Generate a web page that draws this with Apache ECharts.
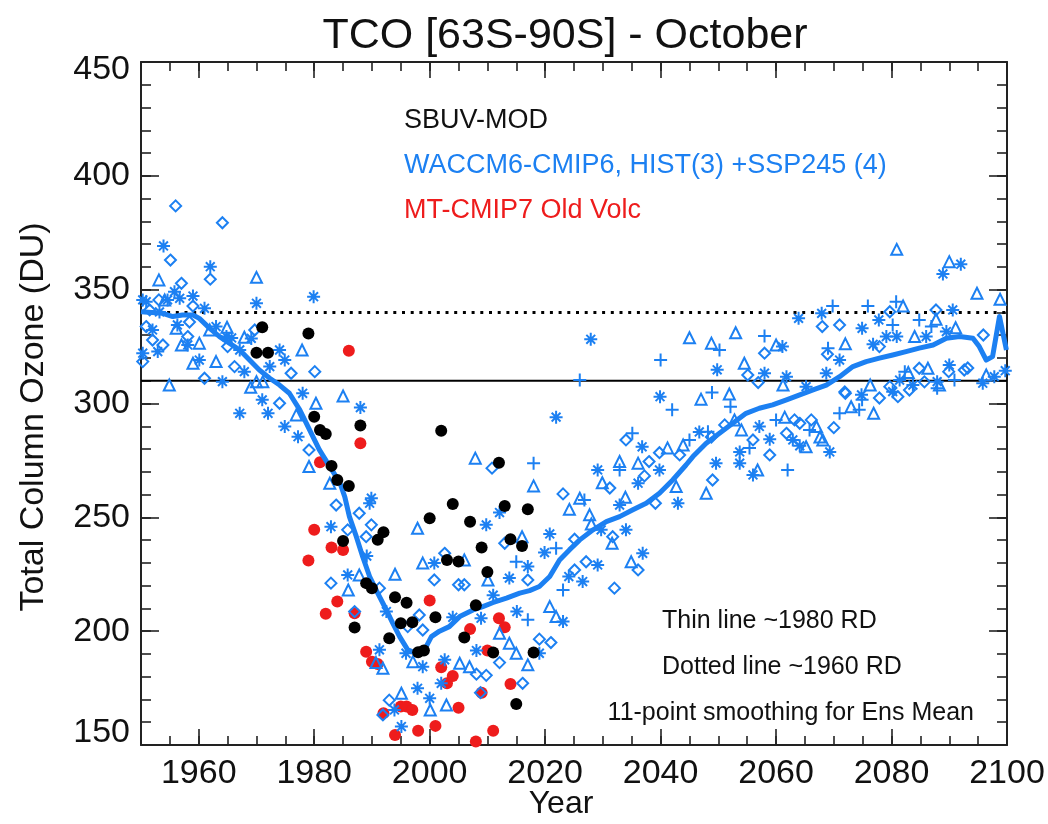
<!DOCTYPE html>
<html>
<head>
<meta charset="utf-8">
<title>TCO [63S-90S] - October</title>
<script src="https://cdn.jsdelivr.net/npm/echarts@6/dist/echarts.min.js"></script>
<style>
html,body{margin:0;padding:0;background:#fff;}
#chart{width:1048px;height:824px;}
</style>
</head>
<body>
<div id="chart"></div>
<script>
// ---------------- DATA ----------------
const titleText = 'TCO [63S-90S] - October';
const xName = 'Year';
const yName = 'Total Column Ozone (DU)';
const xLabelTicks = [1960, 1980, 2000, 2020, 2040, 2060, 2080, 2100];
const yLabelTicks = [150, 200, 250, 300, 350, 400, 450];
const xRange = [1950, 2100];
const yRange = [150, 450];
const rd1980 = 310;   // thin line
const rd1960 = 340;   // dotted line

// SBUV-MOD observations [year, DU]
const sbuv = [
  [1970,322.3],[1971,333.5],[1972,322.3],[1979,330.7],[1980,294.2],[1981,288.4],[1982,286.6],
  [1983,272.6],[1984,266.4],[1985,239.6],[1986,263.8],[1987,201.6],[1988,290.3],[1989,221.1],
  [1990,218.9],[1991,240.1],[1992,243.5],[1993,196.9],[1994,214.9],[1995,203.5],[1996,212.5],
  [1997,203.9],[1998,190.7],[1999,191.5],[2000,249.6],[2001,206.1],[2002,288.0],[2003,231.3],
  [2004,255.9],[2005,230.6],[2006,197.2],[2007,248.1],[2008,211.4],[2009,236.8],[2010,226.0],
  [2011,190.6],[2012,274.0],[2013,255.0],[2014,240.4],[2015,168.0],[2016,237.4],[2017,253.5],
  [2018,190.6]
];

// MT-CMIP7 Old Volc [year, DU]
const mtOldVolc = [
  [1979,231.0],[1980,244.5],[1981,274.2],[1982,207.6],[1983,236.7],[1984,213.0],[1985,235.7],
  [1986,323.2],[1987,207.9],[1988,282.5],[1989,191.0],[1990,186.6],[1991,185.6],[1992,164.0],
  [1994,154.4],[1995,166.9],[1996,166.9],[1997,165.4],[1998,156.3],[2000,213.5],[2001,158.4],
  [2002,184.2],[2003,177.1],[2004,180.3],[2005,166.4],[2007,200.9],[2008,151.5],[2009,173.0],
  [2010,191.5],[2011,156.3],[2012,205.7],[2013,201.7],[2014,176.8]
];

// WACCM6 members, asterisk symbol [year, DU]
const waccmAsterisk = [
  [1950.3,345.5],[1950.9,344.7],[1950.3,322.1],[1952.0,332.3],[1952.9,322.8],[1953.9,369.2],
  [1954.6,345.5],[1955.8,349.1],[1956.7,346.2],[1958.1,325.7],[1959.0,347.2],[1960.1,319.1],
  [1961.0,341.8],[1962.0,360.1],[1963.0,333.8],[1964.1,309.6],[1964.8,329.4],[1967.1,323.5],
  [1967.9,314.0],[1969.1,328.6],[1970.0,344.0],[1971.0,301.6],[1967.1,295.7],[1972.0,295.7],
  [1972.3,316.2],[1974.0,323.5],[1974.9,289.9],[1977.2,285.4],[1978.0,304.5],[1979.9,346.9],
  [1982.9,245.9],[1985.8,224.7],[1988.0,298.2],[1989.1,233.0],[1989.6,256.2],[1989.9,258.4],
  [1991.3,191.8],[1992.5,208.6],[1993.9,165.4],[1995.1,158.1],[1995.9,190.3],[1997.9,174.9],
  [1998.8,184.4],[2000.0,170.5],[2000.8,229.9],[2002.0,177.1],[2002.6,187.4],[2004.0,206.1],
  [2008.1,191.5],[2008.9,205.7],[2009.8,246.7],[2011.0,215.8],[2012.1,252.1],[2013.8,223.3],
  [2015.1,208.6],[2017.0,228.4],[2019.0,190.3],[2019.9,234.5],[2020.8,242.7],[2021.9,294.0],
  [2023.1,204.2],[2024.1,224.0],[2026.5,221.8],[2027.9,328.2],[2029.1,229.1],[2029.7,244.5],
  [2034.0,244.5],[2036.1,265.0],[2036.8,281.0],[2036.9,234.2],[2039.9,303.0],[2043.0,256.2],
  [2049.6,273.8],[2049.8,314.8],[2053.7,273.8],[2056.0,268.6],[2057.1,289.9],[2058.0,313.3],
  [2058.9,284.3],[2061.1,325.0],[2061.8,311.8],[2062.9,284.0],[2063.9,337.4],[2065.2,307.4],
  [2067.9,339.6],[2068.7,313.3],[2071.0,319.1],[2074.9,333.0],[2076.8,326.0],[2077.8,336.7],
  [2079.1,329.4],[2080.2,305.2],[2080.9,329.4],[2083.7,308.1],[2086.0,329.4],[2087.9,309.6],
  [2088.9,356.9],[2089.5,331.6],[2090.6,341.1],[2092.0,361.2],[2095.8,308.9],[2097.8,311.8],
  [2099.7,314.4],
  [2046.7,287.5],[2053.7,278.7],[2064.1,281.4],[2069.3,278.7],[2074.8,303.8],[2081.4,310.3],
  [2090.0,316.9],[1953.2,340.2],[1956.3,334.5],[1965.7,328.8],[1974.9,319.1],[2029.1,270.8],
  [2032.9,255.4],[2039.8,270.8]
];

// WACCM6 members, diamond symbol
const waccmDiamond = [
  [1950.3,318.4],[1950.9,333.8],[1952.0,327.9],[1953.1,345.5],[1953.8,325.7],[1955.1,363.0],
  [1956.0,386.8],[1957.0,352.8],[1958.1,329.4],[1959.0,342.8],[1961.0,311.1],[1962.0,354.6],
  [1964.1,379.4],[1965.0,325.0],[1966.2,316.2],[1974.0,300.1],[1976.0,313.3],[1979.1,279.6],
  [1980.1,314.0],[1982.9,221.1],[1983.8,255.4],[1985.8,244.5],[1987.0,208.6],[1987.8,251.8],
  [1989.0,241.5],[1989.9,246.7],[1991.3,218.9],[1991.9,163.2],[1993.0,169.7],[1996.2,202.0],
  [1998.2,207.1],[1998.8,200.5],[2000.8,222.5],[2002.6,234.2],[2005.0,220.4],[2006.0,220.4],
  [2008.1,181.1],[2008.8,173.0],[2009.8,180.6],[2010.8,271.6],[2012.1,186.2],[2013.0,238.6],
  [2016.1,177.1],[2017.0,222.5],[2019.0,196.5],[2021.0,195.0],[2023.1,260.3],[2025.1,240.4],
  [2025.1,226.9],[2027.1,230.5],[2031.7,241.5],[2032.0,218.9],[2034.0,284.0],[2036.1,226.9],
  [2038.0,274.5],[2039.1,256.2],[2039.8,278.4],[2049.0,266.4],[2051.1,290.6],[2055.1,312.5],
  [2056.0,284.0],[2056.9,309.2],[2058.0,322.1],[2061.8,286.9],[2064.1,291.3],[2066.1,292.8],
  [2068.0,333.8],[2068.9,321.6],[2070.0,289.4],[2071.0,334.5],[2072.0,304.5],[2077.9,325.0],
  [2079.7,340.3],[2079.7,307.4],[2081.1,303.0],[2083.1,305.9],[2084.8,315.5],[2087.7,341.1],
  [2089.9,314.0],[2092.6,314.7],[2095.9,330.1],
  [2048.8,285.3],[2058.9,277.4],[2063.2,292.8],[2071.9,305.1],[2077.9,302.4],[2085.7,309.5],
  [2093.2,315.6],[1951.5,341.1],[1958.4,335.8],[1969.7,332.3],[2031.2,262.9],[2037.2,268.2],
  [2043.3,277.4]
];

// WACCM6 members, triangle symbol
const waccmTriangle = [
  [1953.1,354.3],[1954.9,308.1],[1956.1,333.0],[1957.0,325.7],[1959.0,317.7],[1960.1,326.5],
  [1963.0,318.4],[1964.9,333.5],[1967.9,329.1],[1969.0,307.1],[1970.0,355.4],[1970.0,309.6],
  [1971.1,309.6],[1976.9,295.0],[1977.9,323.5],[1979.1,272.3],[1980.3,300.1],[1982.7,265.0],
  [1985.0,303.3],[1985.9,218.1],[1987.8,224.7],[1990.7,186.2],[1991.9,183.7],[1994.0,225.0],
  [1995.1,172.7],[1997.1,186.6],[1997.9,245.2],[1998.8,229.9],[2000.1,165.4],[2002.9,167.6],
  [2005.2,185.9],[2006.0,231.3],[2006.9,184.4],[2007.9,276.0],[2010.1,222.5],[2012.1,199.1],
  [2013.8,194.7],[2015.0,190.3],[2016.0,241.5],[2017.0,185.2],[2018.0,263.8],[2020.8,210.8],
  [2021.9,206.4],[2024.2,253.5],[2026.0,258.4],[2028.0,247.1],[2029.9,265.2],[2031.6,238.6],
  [2032.9,274.5],[2033.9,258.8],[2034.9,230.5],[2036.1,273.8],[2042.7,263.5],[2043.9,281.8],
  [2045.0,328.9],[2047.0,301.9],[2047.9,260.6],[2048.8,326.5],[2051.9,304.2],[2053.0,331.1],
  [2054.0,288.4],[2054.5,317.7],[2056.8,270.8],[2060.0,325.7],[2061.2,308.1],[2065.2,281.0],
  [2067.0,289.9],[2068.1,284.0],[2072.0,326.2],[2073.0,298.6],[2076.9,295.7],[2080.9,367.7],
  [2082.0,342.8],[2082.9,313.6],[2084.0,329.4],[2086.3,315.5],[2087.7,337.0],[2090.0,362.3],
  [2091.1,333.3],[2094.8,348.4],[2096.4,312.5],[2098.8,345.8],
  [2052.8,292.8],[2061.5,294.0],[2067.6,285.3],[2076.3,308.1],[2088.3,308.1],[1954.1,345.5],
  [1961.9,332.3],[2027.7,251.1],[2041.2,280.5]
];

// WACCM6 SSP245 4th member, plus symbol
const waccmPlus = [
  [2015.0,230.5],[2017.0,205.0],[2018.0,273.8],[2021.9,236.4],[2023.1,218.1],[2026.0,310.3],
  [2035.1,286.9],[2040.0,319.1],[2042.0,297.2],[2048.2,287.6],[2048.9,304.8],[2050.2,323.5],
  [2052.1,298.6],[2058.0,329.7],[2060.0,292.8],[2062.0,270.8],[2069.0,324.3],[2069.8,342.8],
  [2071.0,295.7],[2074.9,301.6],[2075.9,342.8],[2080.2,334.5],[2080.8,344.7],[2084.8,336.7],
  [2086.9,333.8],[2087.9,306.7],
  [2055.4,280.5],[2065.8,288.4],[2074.4,297.2],[2082.3,313.9],[2090.9,310.3],[2032.9,270.8],
  [2045.0,284.0],[2026.8,257.6]
];

// Ensemble mean, 11-point smoothing [year, DU]
const ensMean = [
  [1950.0,340.3],[1953.8,339.6],[1955.5,338.2],[1957.2,338.9],[1959.0,338.9],[1960.1,337.4],
  [1961.9,333.0],[1963.6,329.4],[1965.3,326.5],[1967.1,323.5],[1968.8,319.1],[1970.5,314.7],
  [1972.3,311.1],[1974.0,308.1],[1975.7,304.5],[1977.5,297.2],[1979.2,288.4],[1980.9,279.6],
  [1982.7,272.3],[1984.4,265.5],[1985.3,259.0],[1986.1,250.3],[1987.3,241.5],[1988.4,232.7],
  [1989.6,224.0],[1991.0,216.7],[1992.5,209.3],[1993.6,203.5],[1994.8,197.6],[1996.2,191.8],
  [1997.7,190.3],[1999.1,191.8],[2000.3,197.6],[2001.7,200.0],[2003.4,202.0],[2005.2,206.4],
  [2007.5,209.3],[2009.2,210.8],[2010.9,212.5],[2013.3,214.5],[2015.6,216.7],[2017.3,217.8],
  [2019.0,219.6],[2020.8,224.0],[2022.5,231.3],[2024.2,235.7],[2026.0,240.1],[2028.3,244.5],
  [2030.6,248.1],[2032.9,250.3],[2035.2,253.3],[2037.5,256.2],[2039.8,260.6],[2042.1,266.4],
  [2044.4,273.0],[2045.6,276.7],[2047.9,282.5],[2050.2,286.9],[2052.5,291.3],[2054.8,295.7],
  [2057.1,297.9],[2059.4,299.4],[2061.8,301.6],[2064.1,303.8],[2066.4,306.0],[2068.7,308.1],
  [2071.0,311.8],[2073.3,316.2],[2075.6,318.4],[2077.9,319.9],[2080.2,321.3],[2082.5,322.8],
  [2084.8,324.3],[2087.2,325.7],[2089.5,328.7],[2091.8,329.4],[2094.1,328.7],[2095.2,325.0],
  [2096.4,319.1],[2097.5,320.6],[2098.7,338.2],[2099.9,323.5]
];

const legendLines = [
  {text: 'SBUV-MOD', color: '#111111'},
  {text: 'WACCM6-CMIP6, HIST(3) +SSP245 (4)', color: '#1c80f2'},
  {text: 'MT-CMIP7 Old Volc', color: '#ee1c1c'}
];
const noteLines = ['Thin line ~1980 RD', 'Dotted line ~1960 RD', '11-point smoothing for Ens Mean'];

// ---------------- STYLE ----------------
const FONT = "'Liberation Sans', Arial, Helvetica, sans-serif";
const BLUE = '#1c80f2';
const RED = '#ee1c1c';
const BLACK = '#000000';
const AXC = '#222222';

function range(a, b, s) { const r = []; for (let v = a; v <= b + 1e-9; v += s) r.push(v); return r; }
const xMinorTicks = range(xRange[0], xRange[1], 5);
const yMinorTicks = range(yRange[0], yRange[1], 10);

const chart = echarts.init(document.getElementById('chart'), null, {renderer: 'canvas'});

function xAxisDef(pos, ticks, len, withLabels, withLine) {
  return {
    type: 'value', gridIndex: 0, position: pos, min: xRange[0], max: xRange[1], interval: 5,
    axisLine: {show: withLine, onZero: false, lineStyle: {color: AXC, width: 2}},
    axisTick: {show: true, inside: true, length: len, customValues: ticks, lineStyle: {color: AXC, width: 1.6}},
    axisLabel: withLabels ? {
      show: true, customValues: xLabelTicks, fontFamily: FONT, fontSize: 34, color: '#111', margin: 12,
      formatter: function (v) { return String(v); }
    } : {show: false},
    splitLine: {show: false}
  };
}
function yAxisDef(pos, ticks, len, withLabels, withLine) {
  return {
    type: 'value', gridIndex: 0, position: pos, min: yRange[0], max: yRange[1], interval: 10,
    axisLine: {show: withLine, onZero: false, lineStyle: {color: AXC, width: 2}},
    axisTick: {show: true, inside: true, length: len, customValues: ticks, lineStyle: {color: AXC, width: 1.6}},
    axisLabel: withLabels ? {
      show: true, customValues: yLabelTicks, color: '#111', margin: 11,
      formatter: function (v) {
        if (v === yRange[1]) return '{t|' + v + '}';
        if (v === yRange[0]) return '{b|' + v + '}';
        return '{n|' + v + '}';
      },
      rich: {
        n: {fontFamily: FONT, fontSize: 34, color: '#111'},
        t: {fontFamily: FONT, fontSize: 34, color: '#111', padding: [16, 0, 0, 0]},
        b: {fontFamily: FONT, fontSize: 34, color: '#111', padding: [0, 0, 24, 0]}
      }
    } : {show: false},
    splitLine: {show: false}
  };
}

const symStyle = {color: 'transparent', borderColor: BLUE, borderWidth: 2, opacity: 1};
const ASTERISK = 'path://M5,0L5,10M0,5L10,5M1.6,1.6L8.4,8.4M8.4,1.6L1.6,8.4';
const PLUS = 'path://M5,0L5,10M0,5L10,5';

const graphics = [];
graphics.push({
  type: 'text', x: 34, y: 417, rotation: Math.PI / 2,
  style: {text: yName, fontFamily: FONT, fontSize: 34, fill: '#111', textAlign: 'center', textVerticalAlign: 'middle'}
});
graphics.push({
  type: 'text', x: 561, y: 804,
  style: {text: xName, fontFamily: FONT, fontSize: 32, fill: '#111', textAlign: 'center', textVerticalAlign: 'middle'}
});
legendLines.forEach(function (l, i) {
  graphics.push({
    type: 'text', x: 404, y: 121 + i * 45,
    style: {text: l.text, fontFamily: FONT, fontSize: 27, fill: l.color, textAlign: 'left', textVerticalAlign: 'middle'}
  });
});
noteLines.forEach(function (t, i) {
  const last = i === noteLines.length - 1;
  graphics.push({
    type: 'text', x: last ? 974 : 662, y: 621 + i * 46,
    style: {text: t, fontFamily: FONT, fontSize: 25, fill: '#111', textAlign: last ? 'right' : 'left', textVerticalAlign: 'middle'}
  });
});

const option = {
  animation: false,
  backgroundColor: '#ffffff',
  title: {
    text: titleText, left: 560, top: 10, textAlign: 'center',
    textStyle: {fontFamily: FONT, fontSize: 43, fontWeight: 'normal', color: '#111'}
  },
  grid: {left: 141, top: 62, width: 866, height: 683, containLabel: false},
  xAxis: [
    xAxisDef('bottom', xMinorTicks, 9, true, true),
    xAxisDef('bottom', xLabelTicks, 16, false, false),
    xAxisDef('top', xMinorTicks, 9, false, true),
    xAxisDef('top', xLabelTicks, 16, false, false)
  ],
  yAxis: [
    yAxisDef('left', yMinorTicks, 10, true, true),
    yAxisDef('left', yLabelTicks, 18, false, false),
    yAxisDef('right', yMinorTicks, 10, false, true),
    yAxisDef('right', yLabelTicks, 18, false, false)
  ],
  graphic: graphics,
  series: [
    {
      name: 'RD1980', type: 'line', silent: true, symbol: 'none', z: 2,
      data: [[xRange[0], rd1980], [xRange[1], rd1980]],
      lineStyle: {color: '#000', width: 2.2}
    },
    {
      name: 'RD1960', type: 'line', silent: true, symbol: 'none', z: 2,
      data: [[xRange[0], rd1960], [xRange[1], rd1960]],
      lineStyle: {color: '#000', width: 3, type: [3, 5.7], cap: 'butt'}
    },
    {
      name: 'MT-CMIP7 Old Volc', type: 'scatter', silent: true, z: 3,
      symbol: 'circle', symbolSize: 12, data: mtOldVolc,
      itemStyle: {color: RED, opacity: 1}
    },
    {
      name: 'WACCM6 asterisk', type: 'scatter', silent: true, z: 4,
      symbol: ASTERISK, symbolSize: 13, data: waccmAsterisk, itemStyle: symStyle
    },
    {
      name: 'WACCM6 diamond', type: 'scatter', silent: true, z: 4,
      symbol: 'diamond', symbolSize: 11, data: waccmDiamond, itemStyle: symStyle
    },
    {
      name: 'WACCM6 triangle', type: 'scatter', silent: true, z: 4,
      symbol: 'triangle', symbolSize: 11, data: waccmTriangle, itemStyle: symStyle
    },
    {
      name: 'WACCM6 plus', type: 'scatter', silent: true, z: 4,
      symbol: PLUS, symbolSize: 13, data: waccmPlus, itemStyle: symStyle
    },
    {
      name: 'Ens Mean', type: 'line', silent: true, symbol: 'none', z: 5,
      data: ensMean, lineStyle: {color: BLUE, width: 5, join: 'round'}
    },
    {
      name: 'SBUV-MOD', type: 'scatter', silent: true, z: 6,
      symbol: 'circle', symbolSize: 12, data: sbuv,
      itemStyle: {color: BLACK, opacity: 1}
    }
  ]
};
chart.setOption(option);
</script>
</body>
</html>
